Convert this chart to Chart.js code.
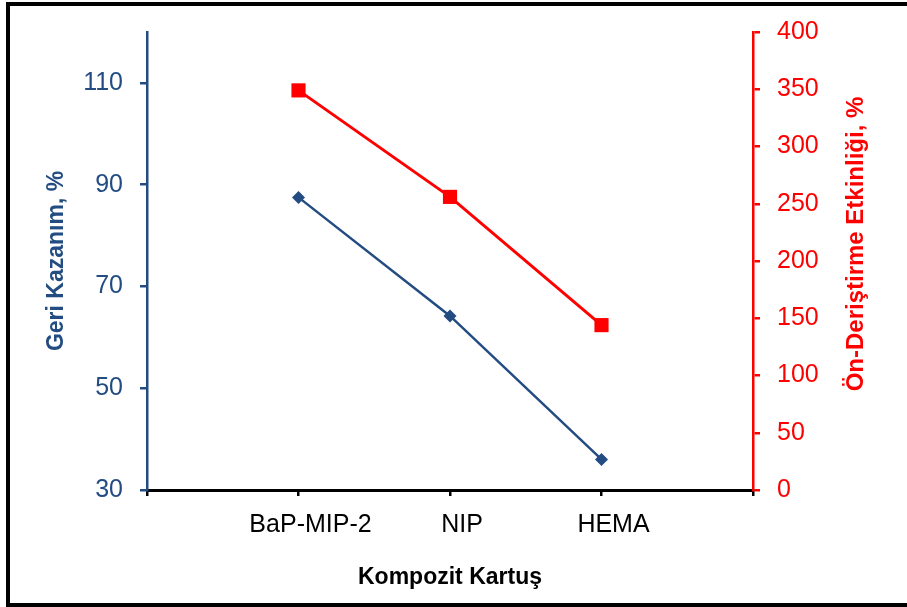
<!DOCTYPE html>
<html>
<head>
<meta charset="utf-8">
<script src="https://cdn.jsdelivr.net/npm/chart.js@4"></script>
<style>
html,body{margin:0;padding:0;background:#fff;overflow:hidden;}
#wrap{position:relative;width:907px;height:607px;}
#frame{position:absolute;left:6px;top:2px;width:940px;height:597px;border:4px solid #000;pointer-events:none;box-sizing:content-box;}
canvas{position:absolute;left:0;top:0;}
</style>
</head>
<body>
<div id="wrap">
<canvas id="c" width="907" height="607"></canvas>
<div id="frame"></div>
</div>
<script>
const categories = ['', 'BaP-MIP-2', 'NIP', 'HEMA', ''];
const recoveryValues = [null, 87.5, 64.2, 36.0, null];
const enrichmentValues = [null, 349, 256, 144, null];
const leftTicks = [30, 50, 70, 90, 110];
const xTitle = 'Kompozit Kartuş';
const leftTitle = 'Geri Kazanım, %';
const rightTitle = 'Ön-Deriştirme Etkinliği, %';

const BLUE = '#234C82';
const RED = '#FF0000';
const FONT = '"Liberation Sans", Arial, sans-serif';

// Right axis title reads bottom-to-top, so it is drawn by a small plugin
const rightTitlePlugin = {
  id: 'rightTitle',
  afterDraw(chart) {
    const s = chart.scales.y1;
    const ctx = chart.ctx;
    ctx.save();
    ctx.translate(s.right - 41, (s.top + s.bottom) / 2 - 17);
    ctx.rotate(-Math.PI / 2);
    ctx.textAlign = 'center';
    ctx.textBaseline = 'middle';
    ctx.fillStyle = RED;
    ctx.font = 'bold 24px ' + FONT;
    ctx.fillText(rightTitle, 0, 0);
    ctx.restore();
  }
};

new Chart(document.getElementById('c'), {
  type: 'line',
  data: {
    labels: categories,
    datasets: [
      {
        label: leftTitle,
        data: recoveryValues,
        yAxisID: 'y',
        borderColor: BLUE,
        backgroundColor: BLUE,
        borderWidth: 2.5,
        pointStyle: 'rectRot',
        pointRadius: 6.5,
        pointBorderWidth: 0,
        tension: 0,
        spanGaps: false
      },
      {
        label: rightTitle,
        data: enrichmentValues,
        yAxisID: 'y1',
        borderColor: RED,
        backgroundColor: RED,
        borderWidth: 3,
        pointStyle: 'rect',
        pointRadius: 10,
        pointBorderWidth: 0,
        tension: 0,
        spanGaps: false
      }
    ]
  },
  plugins: [rightTitlePlugin],
  options: {
    responsive: false,
    animation: false,
    layout: { padding: { left: 10, right: 10, top: 32, bottom: 10 } },
    plugins: { legend: { display: false }, tooltip: { enabled: false } },
    scales: {
      x: {
        type: 'category',
        offset: false,
        afterFit: s => { s.height = 107; },
        border: { display: true, color: '#000', width: 3 },
        grid: { display: true, drawOnChartArea: false, drawTicks: true, tickLength: 6, color: '#000', lineWidth: 2.5 },
        ticks: { color: '#000', padding: 14, labelOffset: 12, maxRotation: 0, autoSkip: false, font: { family: FONT, size: 25 } },
        title: { display: true, text: xTitle, color: '#000', padding: { top: 0, bottom: 6 }, font: { family: FONT, size: 23, weight: 'bold' } }
      },
      y: {
        position: 'left',
        min: 30,
        max: 120,
        afterFit: s => { s.width = 137; },
        afterBuildTicks: s => { s.ticks = leftTicks.map(v => ({ value: v })); },
        border: { display: true, color: BLUE, width: 2.5 },
        grid: { display: true, drawOnChartArea: false, tickLength: 7, color: BLUE, lineWidth: 2.5 },
        ticks: { color: BLUE, padding: 17, font: { family: FONT, size: 25 } },
        title: { display: true, text: leftTitle, color: BLUE, padding: { top: 33, bottom: 0 }, font: { family: FONT, size: 23, weight: 'bold' } }
      },
      y1: {
        position: 'right',
        min: 0,
        max: 400,
        afterFit: s => { s.width = 144; },
        border: { display: true, color: RED, width: 2.5 },
        grid: { display: true, drawOnChartArea: false, tickLength: 7, color: RED, lineWidth: 2.5 },
        ticks: { color: RED, padding: 17, stepSize: 50, font: { family: FONT, size: 25 } },
        title: { display: false }
      }
    }
  }
});
</script>
</body>
</html>
